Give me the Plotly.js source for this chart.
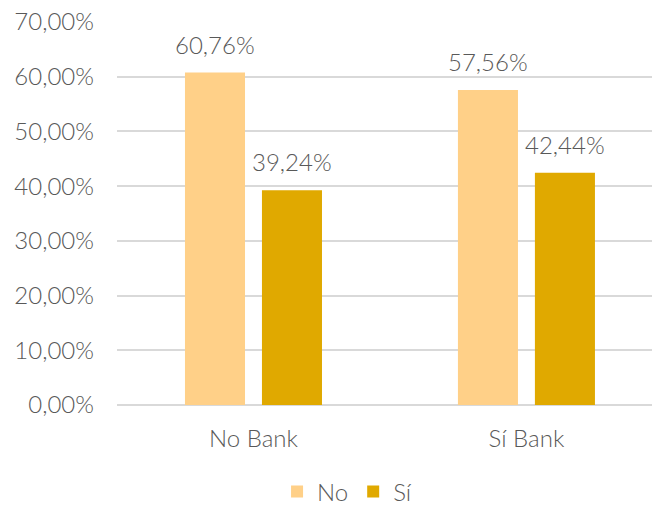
<!DOCTYPE html>
<html>
<head>
<meta charset="utf-8">
<script src="https://cdn.plot.ly/plotly-3.0.1.min.js"></script>
<style>html,body{margin:0;padding:0;background:#fff;}#chart{width:652px;height:505px;}</style>
</head>
<body>
<div id="chart"></div>
<script>
const categories = ["No Bank", "Sí Bank"];
const seriesNames = ["No", "Sí"];
const valuesNo = [60.76, 57.56];
const valuesSi = [39.24, 42.44];
const yTicks = [0, 10, 20, 30, 40, 50, 60, 70];

const colors = ["#FFD088", "#E0A900"];
const textColor = "#595959";
const fontFam = "Lato, 'Open Sans', sans-serif";
const fs = 24;

const seriesVals = [valuesNo, valuesSi];
const fmt = v => v.toFixed(2).replace(".", ",") + "%";

const traces = seriesVals.map((vals, i) => ({
  type: "bar",
  name: seriesNames[i],
  x: categories,
  y: vals,
  marker: { color: colors[i] },
  hoverinfo: "skip"
}));

const offsets = [-38.5, 38.5];
const annotations = [];
seriesVals.forEach((vals, i) => {
  vals.forEach((v, j) => {
    annotations.push({
      x: categories[j], y: v, xref: "x", yref: "y",
      text: fmt(v), showarrow: false,
      xanchor: "center", yanchor: "bottom",
      xshift: offsets[i], yshift: 12,
      font: { family: fontFam, size: fs, color: textColor, weight: 300 }
    });
  });
});

const layout = {
  width: 652, height: 505,
  margin: { l: 117, r: 0, t: 22, b: 100, autoexpand: false },
  paper_bgcolor: "#fff", plot_bgcolor: "#fff",
  font: { family: fontFam, size: fs, color: textColor, weight: 300 },
  barmode: "group",
  bargap: 0.436,
  bargroupgap: 0.22,
  xaxis: {
    range: [-0.5, 1.46],
    showgrid: false, zeroline: false,
    showline: false,
    ticks: "", ticklabelstandoff: 17,
    tickfont: { family: fontFam, size: fs, color: textColor, weight: 300 },
    fixedrange: true
  },
  yaxis: {
    range: [0, 70],
    tickvals: yTicks,
    ticktext: yTicks.map(fmt),
    showgrid: true, gridcolor: "#D9D9D9", gridwidth: 2,
    zeroline: true, zerolinecolor: "#D9D9D9", zerolinewidth: 2,
    showline: false, ticks: "", ticklabelstandoff: 22,
    tickfont: { family: fontFam, size: fs, color: textColor, weight: 300 },
    fixedrange: true
  },
  showlegend: true,
  legend: {
    orientation: "h", x: 0.43, xanchor: "center", y: -0.227, yanchor: "middle",
    font: { family: fontFam, size: fs, color: textColor, weight: 300 },
    itemwidth: 30, traceorder: "normal"
  },
  annotations: annotations
};

Plotly.newPlot("chart", traces, layout, { displayModeBar: false, staticPlot: true });
</script>
</body>
</html>
